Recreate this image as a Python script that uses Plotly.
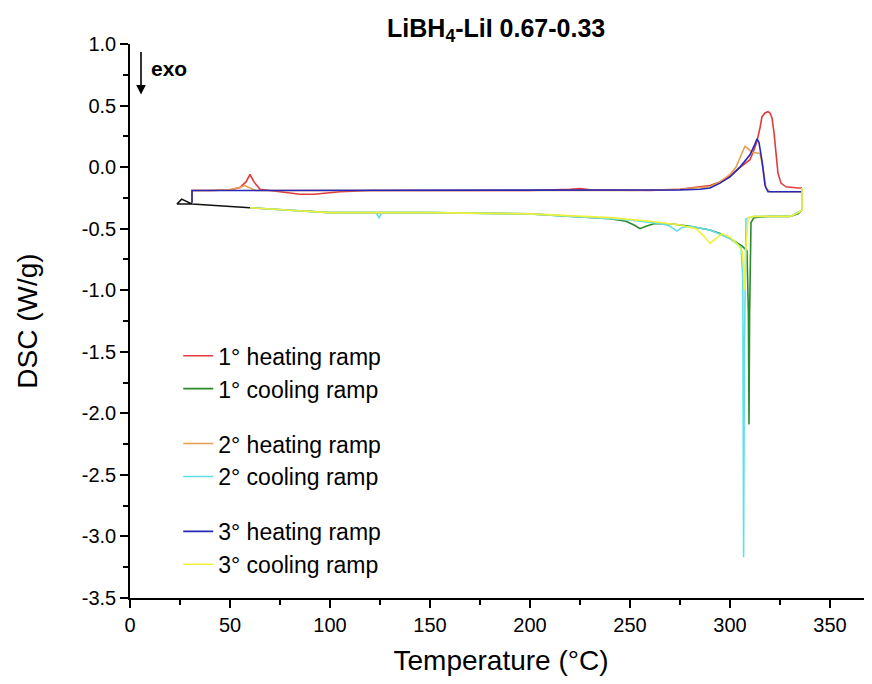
import plotly.graph_objects as go

# ---- data (Temperature °C, DSC W/g) ----
heat1_T = [31, 31, 40, 50, 55, 58, 60, 62, 65, 70, 78, 85, 92, 100, 105, 120, 150, 200, 220, 225, 230,
           260, 275, 285, 290, 295, 300, 303.5, 307, 310, 312, 313.5, 315, 316, 317.5, 319, 320, 321,
           322, 323, 324, 325.5, 328, 334, 336]
heat1_Y = [-0.29, -0.19, -0.19, -0.185, -0.165, -0.12, -0.06, -0.12, -0.18, -0.19, -0.20, -0.22, -0.22,
           -0.21, -0.20, -0.19, -0.19, -0.19, -0.18, -0.175, -0.185, -0.19, -0.18, -0.16, -0.15, -0.12,
           -0.07, -0.02, 0.02, 0.06, 0.14, 0.21, 0.32, 0.41, 0.44, 0.45, 0.44, 0.40, 0.28, 0.10, -0.05,
           -0.13, -0.16, -0.17, -0.17]

cool1_T = [336, 336, 334, 330, 320, 312, 310.5, 309.8, 309.5, 309.2, 308.5, 306, 300, 295, 290, 280,
           270, 262, 258, 255, 252, 248, 240, 220, 200, 150, 100, 80, 60]
cool1_Y = [-0.17, -0.35, -0.38, -0.40, -0.40, -0.41, -0.45, -1.20, -2.09, -1.20, -0.68, -0.64, -0.58,
           -0.54, -0.51, -0.48, -0.46, -0.46, -0.48, -0.50, -0.47, -0.44, -0.42, -0.40, -0.38, -0.37,
           -0.37, -0.35, -0.33]

heat2_T = [31, 31, 40, 50, 54, 57.5, 60, 63, 70, 100, 150, 200, 250, 275, 285, 290, 295, 300, 303,
           305, 307.5, 309, 311, 315, 316.5, 318, 320, 336]
heat2_Y = [-0.29, -0.19, -0.19, -0.185, -0.17, -0.15, -0.17, -0.19, -0.19, -0.19, -0.19, -0.19, -0.19,
           -0.18, -0.17, -0.16, -0.12, -0.06, 0.00, 0.08, 0.17, 0.15, 0.12, 0.11, 0.00, -0.17, -0.20,
           -0.20]

cool2_T = [336, 336, 330, 320, 312, 308, 307.2, 306.8, 306.4, 305.5, 300, 290, 280, 276, 273.5, 270,
           266, 260, 250, 240, 200, 150, 126, 124.5, 123, 100, 80, 60]
cool2_Y = [-0.17, -0.35, -0.40, -0.40, -0.40, -0.42, -1.50, -3.17, -0.90, -0.65, -0.58, -0.51, -0.48,
           -0.49, -0.52, -0.48, -0.46, -0.45, -0.43, -0.42, -0.38, -0.37, -0.37, -0.41, -0.37, -0.37,
           -0.35, -0.33]

heat3_T = [31, 31, 40, 60, 100, 150, 200, 250, 275, 285, 290, 295, 300, 305, 310, 312, 313.5, 314.5,
           316, 317.5, 319, 325, 336]
heat3_Y = [-0.29, -0.19, -0.19, -0.19, -0.19, -0.19, -0.19, -0.19, -0.185, -0.18, -0.17, -0.13, -0.08,
           0.00, 0.10, 0.17, 0.23, 0.20, 0.05, -0.15, -0.20, -0.20, -0.20]

cool3_T = [336, 336, 333, 330, 320, 312, 309, 307.8, 307.5, 307, 306, 304, 300, 296, 293, 290, 287,
           283, 275, 260, 240, 200, 150, 100, 80, 60]
cool3_Y = [-0.17, -0.35, -0.38, -0.40, -0.40, -0.40, -0.41, -0.70, -1.00, -0.85, -0.68, -0.63, -0.57,
           -0.54, -0.58, -0.62, -0.56, -0.50, -0.47, -0.44, -0.41, -0.38, -0.37, -0.37, -0.35, -0.33]

start_T = [60, 45, 31, 25.8, 23.5, 31]
start_Y = [-0.33, -0.315, -0.30, -0.26, -0.30, -0.30]

y_tickvals = [1.0, 0.5, 0.0, -0.5, -1.0, -1.5, -2.0, -2.5, -3.0, -3.5]
y_ticktext = ["1.0", "0.5", "0.0", "-0.5", "-1.0", "-1.5", "-2.0", "-2.5", "-3.0", "-3.5"]
x_tickvals = [0, 50, 100, 150, 200, 250, 300, 350]

series = [
    ("1° heating ramp", heat1_T, heat1_Y, "#e03c3c", "g1"),
    ("1° cooling ramp", cool1_T, cool1_Y, "#2a8a2a", "g1"),
    ("2° heating ramp", heat2_T, heat2_Y, "#e8a050", "g2"),
    ("2° cooling ramp", cool2_T, cool2_Y, "#5fe0e8", "g2"),
    ("3° heating ramp", heat3_T, heat3_Y, "#2828b8", "g3"),
    ("3° cooling ramp", cool3_T, cool3_Y, "#f0f03c", "g3"),
]

FONT = "Arial, Liberation Sans, sans-serif"

fig = go.Figure()
for name, xs, ys, col, grp in series:
    fig.add_trace(go.Scatter(x=xs, y=ys, mode="lines", name=name, legendgroup=grp,
                             line=dict(color=col, width=1.6)))
fig.add_trace(go.Scatter(x=start_T, y=start_Y, mode="lines", showlegend=False,
                         line=dict(color="#111111", width=1.6)))

fig.update_layout(
    width=864, height=676,
    margin=dict(l=122, r=0, t=36, b=86),
    paper_bgcolor="white", plot_bgcolor="white",
    font=dict(family=FONT, color="black"),
    title=dict(text="<b>LiBH<sub>4</sub>-LiI 0.67-0.33</b>", x=0.565, xanchor="center",
               y=0.97, yanchor="middle", font=dict(size=25, family=FONT)),
    legend=dict(x=0.065, y=0.476, xanchor="left", yanchor="top", traceorder="grouped",
                tracegroupgap=22, font=dict(size=23, family=FONT), bgcolor="rgba(0,0,0,0)"),
    xaxis=dict(range=[0, 371], tickvals=x_tickvals, showline=True, linecolor="black", linewidth=1.5,
               ticks="outside", ticklen=8, tickwidth=1.5, tickcolor="black", showgrid=False,
               zeroline=False, tickfont=dict(size=20), mirror=False,
               minor=dict(dtick=25, ticks="outside", ticklen=5, tickwidth=1.5, tickcolor="black"),
               title=dict(text="Temperature (°C)", font=dict(size=28), standoff=16)),
    yaxis=dict(range=[-3.5, 1.0], tickvals=y_tickvals, ticktext=y_ticktext, showline=True,
               linecolor="black", linewidth=1.5, ticks="outside", ticklen=8, tickwidth=1.5,
               tickcolor="black", showgrid=False, zeroline=False, tickfont=dict(size=20),
               minor=dict(dtick=0.25, ticks="outside", ticklen=5, tickwidth=1.5, tickcolor="black"),
               title=dict(text="DSC (W/g)", font=dict(size=28), standoff=36)),
)

fig.add_annotation(x=5.5, y=0.59, xref="x", yref="y", text="", showarrow=True, ax=0, ay=-44,
                   arrowhead=2, arrowsize=1.2, arrowwidth=1.6, arrowcolor="black")
fig.add_annotation(x=9.5, y=0.80, xref="x", yref="y", text="<b>exo</b>", showarrow=False,
                   xanchor="left", font=dict(size=21, family=FONT))

fig.write_html("out.html")
